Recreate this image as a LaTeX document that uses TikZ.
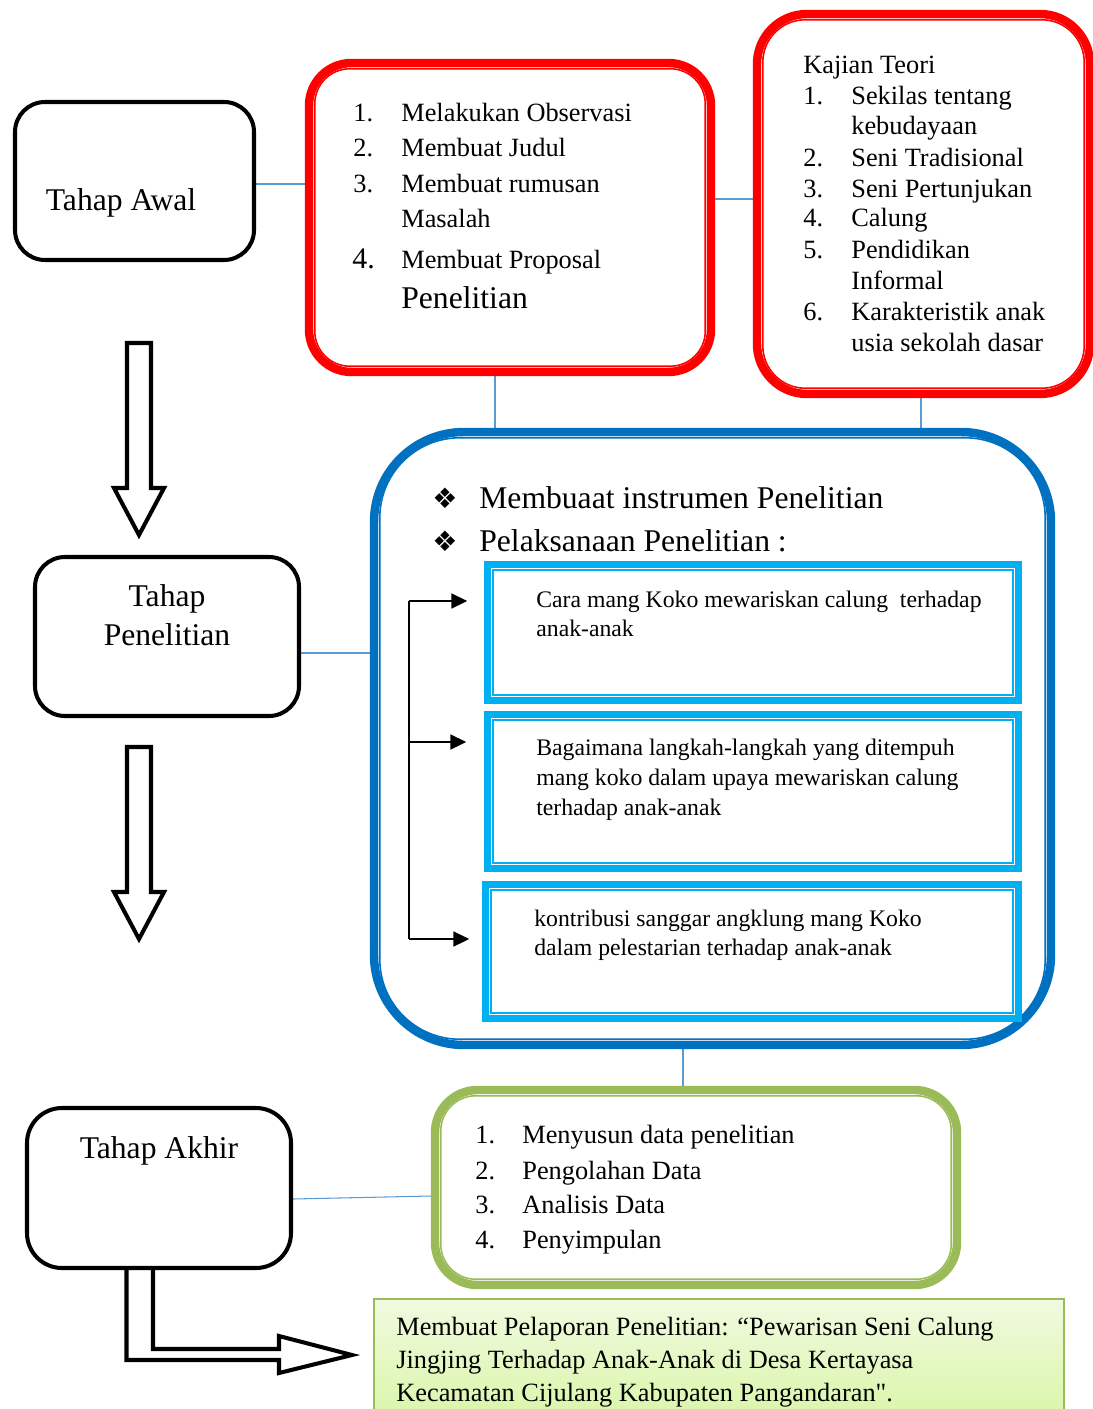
\documentclass[tikz,border=0pt]{standalone}
\usepackage{fontspec}
\setmainfont{Liberation Serif}[Ligatures=TeXOff]
\newfontfamily\symfont{DejaVu Sans}
\usetikzlibrary{fit,arrows.meta,backgrounds}
\definecolor{kred}{RGB}{255,0,0}
\definecolor{kblue}{RGB}{0,112,192}
\definecolor{kcyan}{RGB}{0,176,240}
\definecolor{kgreen}{RGB}{155,187,89}
\definecolor{klink}{RGB}{91,155,213}
\definecolor{kpaleA}{RGB}{240,250,224}
\definecolor{kpaleB}{RGB}{214,245,160}
\begin{document}
\begin{tikzpicture}[x=0.02cm,y=-0.02cm,
  every node/.style={inner sep=0pt},
  tahap/.style={draw,fill=white,line width=2.3pt,rounded corners=0.6cm},
  tahaptxt/.style={anchor=base,font=\fontsize{18}{21}\selectfont},
  dframe/.style={draw=#1,fill=white,line width=4.8pt},
  inframe/.style={draw=#1,line width=0.9pt},
  txt/.style={anchor=base west,font=\fontsize{15}{18}\selectfont},
  bigtxt/.style={anchor=base west,font=\fontsize{18}{21}\selectfont},
  smalltxt/.style={anchor=base west,font=\fontsize{13.5}{16}\selectfont},
  link/.style={draw=klink,line width=0.6pt},
  brk/.style={line width=1.1pt,-{Triangle[length=9pt,width=8.5pt]}},
  blockarrow/.style={draw,fill=white,line width=2.3pt,line join=miter}]
\useasboundingbox (0,0) rectangle (1092,1409);
% tahap boxes
\node[tahap,fit={(15,102) (254,260)}] (awal) {};
\node[tahaptxt] (awalT) at (121,211) {Tahap Awal};
\node[tahap,fit={(35,557) (299,716)}] (pen) {};
\node[tahaptxt] (penT1) at (167,606) {Tahap};
\node[tahaptxt] (penT2) at (167,645) {Penelitian};
\node[tahap,rounded corners=0.7cm,fit={(27,1108) (291,1268)}] (akhir) {};
\node[tahaptxt] (akhirT) at (159,1158) {Tahap Akhir};
\foreach \dy in {0,404}
  \draw[blockarrow] (127,343+\dy) -- (151,343+\dy) -- (151,488+\dy) -- (164,488+\dy)
    -- (139,535+\dy) -- (114,488+\dy) -- (127,488+\dy) -- cycle;
% observasi
\node[dframe=kred,rounded corners=0.85cm,fit={(309,63) (711,372)}] (obs) {};
\draw[inframe=kred,rounded corners=0.7cm] ([shift={(10,10)}]obs.north west) rectangle ([shift={(-10,-10)}]obs.south east);
\foreach \y/\n/\t [count=\k] in {122/1./Melakukan Observasi,157/2./Membuat Judul,193/3./Membuat rumusan} {
  \node[txt] (obsN\k) at (353,\y) {\n};
  \node[txt] (obsT\k) at (401,\y) {\t};
}
\node[txt] (obsT4) at (401,228) {Masalah};
\node[anchor=base west,font=\fontsize{17}{20}\selectfont] (obsN5) at (352,268) {4.};
\node[txt] (obsT5) at (401,268) {Membuat Proposal};
\node[bigtxt] (obsT6) at (401,308) {Penelitian};
% kajian teori
\node[dframe=kred,rounded corners=1cm,fit={(757,14) (1090,394)}] (teori) {};
\draw[inframe=kred,rounded corners=0.85cm] ([shift={(10,10)}]teori.north west) rectangle ([shift={(-10,-10)}]teori.south east);
\node[txt] (kajian) at (803,74) {Kajian Teori};
\foreach \y/\n [count=\k] in {105/1.,167/2.,197/3.,227/4.,258/5.,320/6.}
  \node[txt] (ktN\k) at (803,\y) {\n};
\foreach \y/\t [count=\k] in {105/Sekilas tentang,135/kebudayaan,167/Seni Tradisional,197/Seni Pertunjukan,227/Calung,258/Pendidikan,289/Informal,320/Karakteristik anak,351/usia sekolah dasar}
  \node[txt] (ktT\k) at (851,\y) {\t};
% pelaksanaan
\node[dframe=kblue,rounded corners=1.8cm,fit={(374,432) (1051,1045)}] (lak) {};
\draw[inframe=kblue,rounded corners=1.6cm] ([shift={(10,10)}]lak.north west) rectangle ([shift={(-10,-10)}]lak.south east);
\foreach \y/\t [count=\k] in {508/Membuaat instrumen Penelitian,551/Pelaksanaan Penelitian :} {
  \node[anchor=base,font={\symfont\fontsize{16}{18}\selectfont}] (bul\k) at (445,\y) {❖};
  \node[bigtxt] (head\k) at (479,\y) {\t};
}
\foreach \n/\ya/\yb/\xa in {cA/564.5/700.5/487.5,cB/714.5/868.5/487.5,cC/884.5/1018.5/485.5} {
  \node[dframe=kcyan,line width=4.3pt,fit={(\xa,\ya) (1018.5,\yb)}] (\n) {};
  \draw[inframe=kcyan,line width=1.1pt] ([shift={(9,9)}]\n.north west) rectangle ([shift={(-9,-9)}]\n.south east);
}
\foreach \y/\t [count=\k] in {607/Cara mang Koko mewariskan calung\ \ terhadap,636/anak-anak}
  \node[smalltxt] (cAt\k) at (536,\y) {\t};
\foreach \y/\t [count=\k] in {755/Bagaimana langkah-langkah yang ditempuh,785/mang koko dalam upaya mewariskan calung,815/terhadap anak-anak}
  \node[smalltxt] (cBt\k) at (536,\y) {\t};
\foreach \y/\t [count=\k] in {926/kontribusi sanggar angklung mang Koko,955/dalam pelestarian terhadap anak-anak}
  \node[smalltxt] (cCt\k) at (534,\y) {\t};
\coordinate (spineTop) at (409,601);
\coordinate (spineBot) at (409,939);
\draw[line width=1.1pt] (spineTop) -- (spineBot);
\foreach \n/\ya/\s in {cA/601/0.33cm,cB/742/0.35cm,cC/939/0.25cm}
  \draw[brk,shorten >=\s] (spineTop |- 0,\ya) -- (\n.west |- 0,\ya);
% akhir
\node[dframe=kgreen,rounded corners=0.85cm,fit={(435,1090) (957,1285)}] (olah) {};
\draw[inframe=kgreen,rounded corners=0.7cm] ([shift={(10,10)}]olah.north west) rectangle ([shift={(-10,-10)}]olah.south east);
\foreach \y/\n/\t [count=\k] in {1143/1./Menyusun data penelitian,1179/2./Pengolahan Data,1213/3./Analisis Data,1248/4./Penyimpulan} {
  \node[txt] (dN\k) at (475,\y) {\n};
  \node[txt] (dT\k) at (522,\y) {\t};
}
\node[draw=kgreen,line width=1pt,top color=kpaleA,bottom color=kpaleB,fit={(374,1299) (1064,1440)}] (lapor) {};
\foreach \y/\t [count=\k] in {1335/{Membuat Pelaporan Penelitian: “Pewarisan Seni Calung},1368/{Jingjing Terhadap Anak-Anak di Desa Kertayasa},1401/{Kecamatan Cijulang Kabupaten Pangandaran".}}
  \node[txt] (lap\k) at (396,\y) {\t};
% connectors
\begin{pgfonlayer}{background}
\draw[link] (awal.east |- 0,184) -- (obs.west |- 0,184);
\draw[link] (obs.east |- 0,199) -- (teori.west |- 0,199);
\draw[link] (obs.south -| 495,0) -- (lak.north -| 495,0);
\draw[link] (teori.south -| 921,0) -- (lak.north -| 921,0);
\draw[link] (pen.east |- 0,653) -- (lak.west |- 0,653);
\draw[link] (lak.south -| 683,0) -- (olah.north -| 683,0);
\draw[link] (akhir.east |- 0,1199) -- (olah.west |- 0,1196);
\draw[blockarrow] (akhir.south -| 126.5,0) -- (126.5,1360) -- (279,1360) -- (279,1373)
  -- (352,1355) -- (279,1336) -- (279,1349) -- (153,1349) -- (akhir.south -| 153,0);
\end{pgfonlayer}
\end{tikzpicture}
\end{document}
